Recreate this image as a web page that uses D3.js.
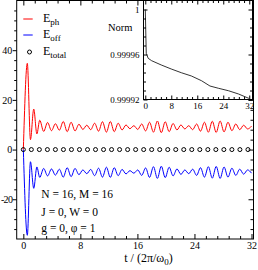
<!DOCTYPE html>
<html><head><meta charset="utf-8">
<script src="https://cdn.jsdelivr.net/npm/d3@7/dist/d3.min.js"></script>
<style>
html,body{margin:0;padding:0;background:#fff;}
svg{display:block;font-family:"Liberation Serif","DejaVu Serif",serif;}
</style></head>
<body><svg id="c" width="258" height="270"></svg>
<script>
// ---- data ----
const phTimes = [0,0.56,1.0,1.46,1.9,2.3,2.85,3.4,3.95,4.5,5.05,5.6,6.15,6.7,7.25,7.8,8.35,8.9,9.45,10.0,10.55,11.1,11.65,12.2,12.75,13.3,13.85,14.4,14.95,15.5,16.05,16.6,17.15,17.7,18.25,18.8,19.35,19.9,20.45,21.0,21.55,22.1,22.65,23.2,23.75,24.3,24.85,25.4,25.95,26.5,27.05,27.6,28.15,28.7,29.25,29.8,30.35,30.9,31.45,32.0];
const ePh = [0,34.7,4.0,16.3,6.3,11.8,7.3,10.9,7.6,10.4,7.8,11.3,7.2,11.0,7.5,10.2,8.1,9.8,8.0,10.6,7.4,11.2,7.0,11.3,7.2,10.6,7.9,9.9,8.4,9.6,8.1,10.3,7.5,11.0,7.0,11.5,6.8,11.2,7.2,10.5,7.9,9.9,8.3,9.6,8.0,10.3,7.4,11.0,7.0,11.4,6.9,11.5,7.1,11.0,7.6,10.3,8.0,9.8,8.3,9.4];
const eOff = [0,-34.5,-4.9,-15.6,-7.0,-11.2,-7.6,-10.6,-7.8,-10.3,-7.9,-11.1,-7.3,-10.9,-7.6,-10.1,-8.2,-9.7,-8.0,-10.5,-7.5,-11.1,-7.1,-11.2,-7.3,-10.5,-8.0,-9.8,-8.5,-9.5,-8.2,-10.4,-7.4,-11.2,-6.9,-11.6,-6.7,-11.3,-7.1,-10.6,-7.8,-10.0,-8.2,-9.7,-7.9,-10.4,-7.3,-11.1,-6.9,-11.5,-6.8,-11.6,-7.0,-11.1,-7.5,-10.4,-7.9,-9.9,-8.2,-9.5];
const totTimes = [0,1.125,2.25,3.375,4.5,5.625,6.75,7.875,9,10.125,11.25,12.375,13.5,14.625,15.75,16.875,18,19.125,20.25,21.375,22.5,23.625,24.75,25.875,27,28.125,29.25,30.375,31.5];
const eTotal = [0,0,0,0,0,0,0,0,0,0,0,0,0,0,0,0,0,0,0,0,0,0,0,0,0,0,0,0,0];
const normTimes = [0,0.15,0.3,0.9,1.95,4.9,8,11.1,14.2,17.3,19.9,22.5,25.6,28.7,31.8,32];
const normVals = [1.0,0.99998,0.999961,0.9999566,0.9999545,0.9999507,0.9999471,0.9999438,0.9999409,0.9999367,0.999932,0.99993,0.9999278,0.9999249,0.9999211,0.999921];
const xMajor = [0,8,16,24,32];
const yMajor = [-20,0,20,40];
const insetYMajor = [0.99992,0.99996,1];
const insetYLabels = ["0.99992","0.99996","1"];
const legendLabels = [["E","ph"],["E","off"],["E","total"]];
const notes = ["N = 16, M = 16","J = 0, W = 0","g = 0, \u03c6 = 1"];
const colors = ["#ff0000","#0000ff","#000000"];

// ---- scales ----
const svg = d3.select("#c");
const L=16.7, R=253.5, T=0.5, B=239;
const x = d3.scaleLinear().domain([-0.93,32.28]).range([L,R]);
const y = d3.scaleLinear().domain([-36,60]).range([B,T]);
const xMin2 = []; for(let i=0;i<=20;i++){ if(i%5) xMin2.push(+(i*1.6).toFixed(2)); }
const yMin2 = []; for(let v=-32; v<=60; v+=4){ if(v%20) yMin2.push(v); }

function styleAxis(g){ g.select(".domain").remove(); g.selectAll("line").attr("stroke","#000").attr("stroke-width",1); g.selectAll("text").attr("fill","#000").attr("font-family","Liberation Serif"); }

// main frame
svg.append("rect").attr("x",L).attr("y",T).attr("width",R-L).attr("height",B-T).attr("fill","none").attr("stroke","#000").attr("stroke-width",1);

// bottom axis
svg.append("g").attr("transform",`translate(0,${B})`).call(d3.axisBottom(x).tickValues(xMajor).tickSize(-5).tickPadding(2.5).tickFormat(d=>String(d))).call(styleAxis).attr("font-size",10);
svg.append("g").attr("transform",`translate(0,${B})`).call(d3.axisBottom(x).tickValues(xMin2).tickSize(-3).tickFormat("")).call(styleAxis);
// top axis
svg.append("g").attr("transform",`translate(0,${T})`).call(d3.axisTop(x).tickValues(xMajor).tickSize(-5).tickFormat("")).call(styleAxis);
svg.append("g").attr("transform",`translate(0,${T})`).call(d3.axisTop(x).tickValues(xMin2).tickSize(-3).tickFormat("")).call(styleAxis);
// left axis
svg.append("g").attr("transform",`translate(${L},0)`).call(d3.axisLeft(y).tickValues(yMajor).tickSize(4).tickPadding(0.5).tickFormat(d=>String(d))).call(styleAxis).attr("font-size",10)
  .selectAll("text").filter(d=>d<0).attr("letter-spacing","-0.7px");
svg.append("g").attr("transform",`translate(${L},0)`).call(d3.axisLeft(y).tickValues(yMin2).tickSize(2.5).tickFormat("")).call(styleAxis);
// right axis
svg.append("g").attr("transform",`translate(${R},0)`).call(d3.axisRight(y).tickValues(yMajor).tickSize(-5).tickFormat("")).call(styleAxis);
svg.append("g").attr("transform",`translate(${R},0)`).call(d3.axisRight(y).tickValues(yMin2).tickSize(-3).tickFormat("")).call(styleAxis);

// curves
const line = d3.line().x(d=>x(d[0])).y(d=>y(d[1])).curve(d3.curveMonotoneX);
svg.append("path").datum(phTimes.map((t,i)=>[t,ePh[i]])).attr("d",line).attr("fill","none").attr("stroke",colors[0]).attr("stroke-width",1);
svg.append("path").datum(phTimes.map((t,i)=>[t,eOff[i]])).attr("d",line).attr("fill","none").attr("stroke",colors[1]).attr("stroke-width",1);
svg.append("g").selectAll("circle").data(totTimes.map((t,i)=>[t,eTotal[i]])).join("circle")
  .attr("cx",d=>x(d[0])).attr("cy",d=>y(d[1])).attr("r",2).attr("fill","none").attr("stroke","#000").attr("stroke-width",1);

// legend
const lg = svg.append("g");
const legY = [19,35,52];
const legBase = [21.5,37.8,54.5];
legendLabels.forEach((lab,i)=>{
  if(i<2) lg.append("line").attr("x1",23.3).attr("x2",32.7).attr("y1",legY[i]).attr("y2",legY[i]).attr("stroke",colors[i]).attr("stroke-width",1);
  else lg.append("circle").attr("cx",29.5).attr("cy",legY[i]).attr("r",2).attr("fill","none").attr("stroke","#000");
  const t = lg.append("text").attr("x",43).attr("y",legBase[i]).attr("font-size",12).attr("fill","#000");
  t.append("tspan").text(lab[0]);
  t.append("tspan").attr("font-size",9).attr("dy",3.5).text(lab[1]);
});

// notes
const noteY=[198,215.5,232];
notes.forEach((n,i)=>svg.append("text").attr("x",41.3).attr("y",noteY[i]).attr("font-size",11.5).attr("fill","#000").text(n));

// x title
const xt = svg.append("text").attr("x",148.5).attr("y",261.5).attr("text-anchor","middle").attr("font-size",12).attr("fill","#000");
xt.append("tspan").text("t / (2\u03c0/\u03c9");
xt.append("tspan").attr("font-size",9).attr("dy",3).text("0");
xt.append("tspan").attr("dy",-3).text(")");

// ---- inset ----
const iL=143.5, iR=252.5, iT=0.5, iB=99.5;
const xi = d3.scaleLinear().domain([-0.55,33.0]).range([iL,iR]);
const yi = d3.scaleLinear().domain([0.99992,1.000008]).range([iB,iT]);
const yiMinor=[]; for(let k=1;k<=10;k++){ if(k%5) yiMinor.push(0.99992+k*0.000008); }
svg.append("rect").attr("x",iL).attr("y",iT).attr("width",iR-iL).attr("height",iB-iT).attr("fill","#fff").attr("stroke","#000").attr("stroke-width",1);
svg.append("g").attr("transform",`translate(0,${iB})`).call(d3.axisBottom(xi).tickValues(xMajor).tickSize(-4).tickPadding(3).tickFormat(d=>String(d))).call(styleAxis).attr("font-size",9);
svg.append("g").attr("transform",`translate(0,${iB})`).call(d3.axisBottom(xi).tickValues(xMin2).tickSize(-2.5).tickFormat("")).call(styleAxis);
svg.append("g").attr("transform",`translate(0,${iT})`).call(d3.axisTop(xi).tickValues(xMajor).tickSize(-4).tickFormat("")).call(styleAxis);
svg.append("g").attr("transform",`translate(0,${iT})`).call(d3.axisTop(xi).tickValues(xMin2).tickSize(-2.5).tickFormat("")).call(styleAxis);
svg.append("g").attr("transform",`translate(${iL},0)`).call(d3.axisLeft(yi).tickValues(insetYMajor).tickSize(-4).tickPadding(4).tickFormat((d,i)=>insetYLabels[i])).call(styleAxis).attr("font-size",9);
svg.append("g").attr("transform",`translate(${iL},0)`).call(d3.axisLeft(yi).tickValues(yiMinor).tickSize(-2.5).tickFormat("")).call(styleAxis);
svg.append("g").attr("transform",`translate(${iR},0)`).call(d3.axisRight(yi).tickValues(insetYMajor).tickSize(-4).tickFormat("")).call(styleAxis);
svg.append("g").attr("transform",`translate(${iR},0)`).call(d3.axisRight(yi).tickValues(yiMinor).tickSize(-2.5).tickFormat("")).call(styleAxis);
const nline = d3.line().x(d=>xi(d[0])).y(d=>yi(d[1]));
svg.append("path").datum(normTimes.map((t,i)=>[t,normVals[i]])).attr("d",nline).attr("fill","none").attr("stroke","#000").attr("stroke-width",0.8);
svg.append("text").attr("x",108).attr("y",31).attr("font-size",10.5).attr("fill","#000").text("Norm");
</script></body></html>
